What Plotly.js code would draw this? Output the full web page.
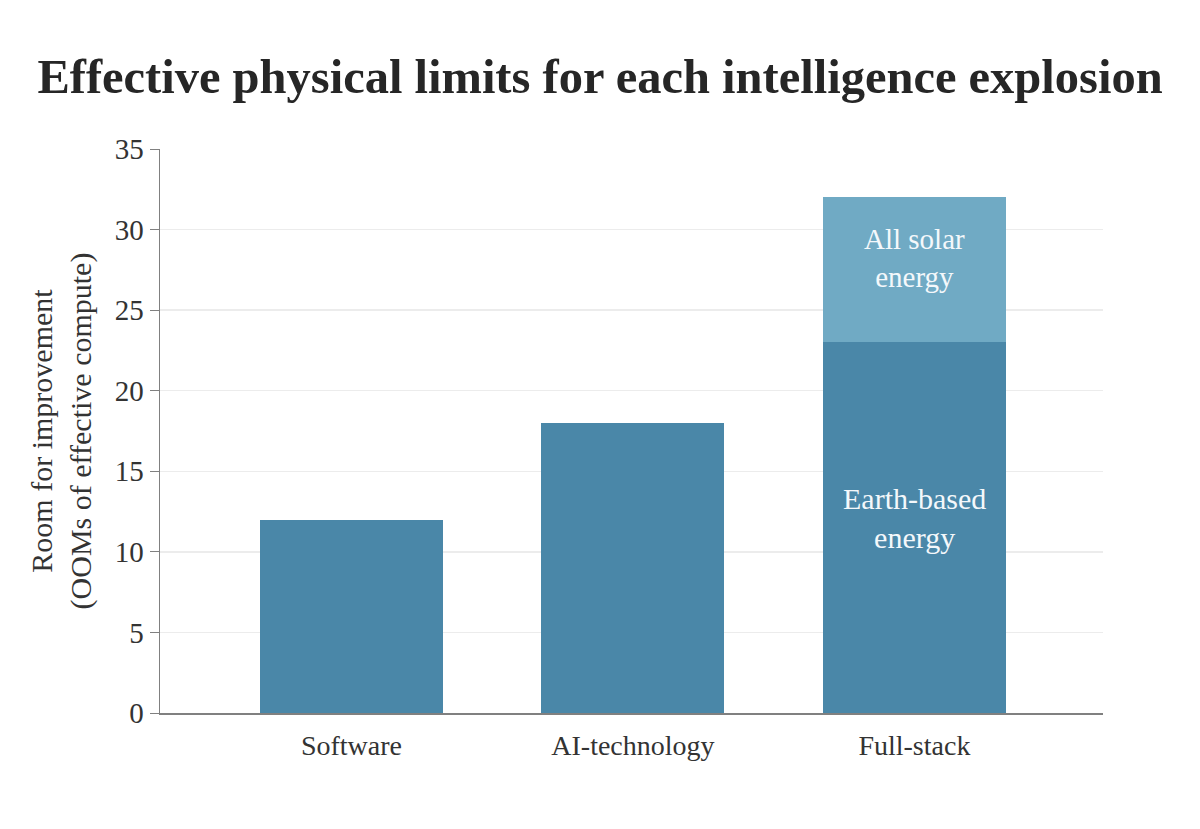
<!DOCTYPE html>
<html>
<head>
<meta charset="utf-8">
<script src="https://cdn.plot.ly/plotly-3.0.1.min.js"></script>
<style>
  html, body { margin: 0; padding: 0; background: #fff; }
  #plot { width: 1200px; height: 829px; }
</style>
</head>
<body>
<div id="plot"></div>
<script>
// categories and values
var categories = ["Software", "AI-technology", "Full-stack"];
var earthValues = [12, 18, 23];
var solarValues = [null, null, 9];
var yTicks = [0, 5, 10, 15, 20, 25, 30, 35];

var font = "Liberation Serif, DejaVu Serif, serif";
var textColor = "#333333";

var earthTrace = {
  x: categories,
  y: earthValues,
  type: "bar",
  name: "Earth-based energy",
  marker: { color: "#4a87a8" },
  width: 0.65,
  hoverinfo: "x+y"
};

var solarTrace = {
  x: categories,
  y: solarValues,
  type: "bar",
  name: "All solar energy",
  marker: { color: "#70aac4" },
  width: 0.65,
  hoverinfo: "x+y"
};

var layout = {
  width: 1200,
  height: 829,
  barmode: "stack",
  showlegend: false,
  paper_bgcolor: "#fff",
  plot_bgcolor: "#fff",
  margin: { l: 160, r: 97, t: 149, b: 116 },
  font: { family: font, color: textColor, size: 24 },
  title: {
    text: "<b>Effective physical limits for each intelligence explosion</b>",
    font: { family: font, size: 48.5, color: "#262626" },
    x: 0.5,
    xanchor: "center",
    y: 0.908,
    yanchor: "middle"
  },
  xaxis: {
    range: [-0.68, 2.67],
    showline: true,
    linecolor: "#808080",
    linewidth: 1.5,
    ticks: "",
    ticklabelstandoff: 7,
    tickfont: { size: 28, color: textColor },
    showgrid: false,
    zeroline: false
  },
  yaxis: {
    range: [0, 35],
    tickvals: yTicks,
    showline: true,
    linecolor: "#808080",
    linewidth: 1.5,
    ticks: "outside",
    ticklen: 9,
    tickcolor: "#808080",
    tickfont: { size: 29, color: textColor },
    showgrid: true,
    gridcolor: "#ececec",
    gridwidth: 1.5,
    zeroline: false,
    title: {
      text: "Room for improvement<br>(OOMs of effective compute)",
      font: { size: 30, color: textColor },
      standoff: 14
    }
  },
  annotations: [
    {
      x: categories[2],
      y: earthValues[2] + solarValues[2] / 2,
      yshift: 12,
      text: "All solar<br>energy",
      showarrow: false,
      font: { family: font, size: 29, color: "#f4f8fb" }
    },
    {
      x: categories[2],
      y: earthValues[2] / 2,
      yshift: 10,
      text: "Earth-based<br>energy",
      showarrow: false,
      font: { family: font, size: 30, color: "#f4f8fb" }
    }
  ]
};

Plotly.newPlot("plot", [earthTrace, solarTrace], layout, { displayModeBar: false, staticPlot: true });
</script>
</body>
</html>
